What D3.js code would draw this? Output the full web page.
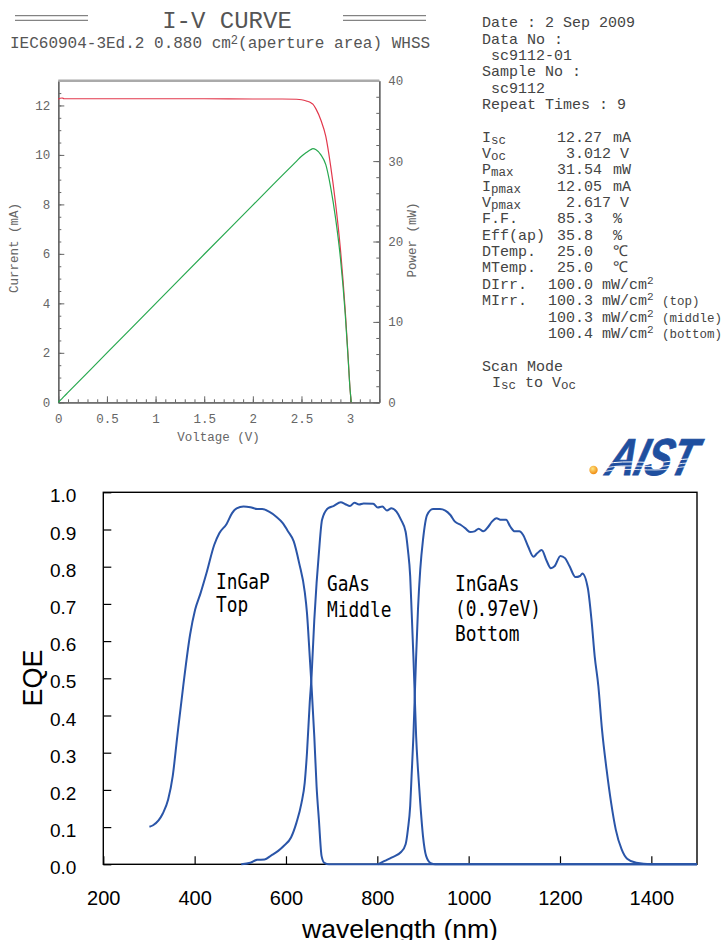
<!DOCTYPE html>
<html>
<head>
<meta charset="utf-8">
<script src="https://cdn.jsdelivr.net/npm/d3@7"></script>
<style>
  body { margin: 0; background: #fff; }
  svg { display: block; }
  text { white-space: pre; }
</style>
</head>
<body>
<svg id="chart" width="726" height="940"></svg>
<script>
// ---- I-V curve (top) ----
const voltage = [0, 0.02, 0.04, 0.06, 0.1, 0.5, 1.0, 1.5, 2.0, 2.3, 2.45, 2.5, 2.55, 2.6, 2.617, 2.65, 2.7, 2.75, 2.8, 2.85, 2.9, 2.95, 2.98, 3.0, 3.012];
const current = [12.25, 12.29, 12.30, 12.27, 12.27, 12.27, 12.27, 12.27, 12.26, 12.26, 12.25, 12.23, 12.18, 12.10, 12.05, 11.85, 11.40, 10.75, 9.55, 8.05, 6.20, 3.70, 1.80, 0.50, 0];
const power = [0, 0.25, 0.49, 0.74, 1.23, 6.14, 12.27, 18.41, 24.52, 28.2, 30.0, 30.6, 31.06, 31.46, 31.54, 31.40, 30.78, 29.56, 26.74, 22.94, 17.98, 10.92, 5.36, 1.5, 0];
const voltageTicks = [0, 0.5, 1, 1.5, 2, 2.5, 3];
const currentTicks = [0, 2, 4, 6, 8, 10, 12];
const powerTicks = [0, 10, 20, 30, 40];

// ---- info panel ----
const infoLines = ["Date : 2 Sep 2009", "Data No :", " sc9112-01", "Sample No :", " sc9112", "Repeat Times : 9"];
const measLabels = [["I", "sc"], ["V", "oc"], ["P", "max"], ["I", "pmax"], ["V", "pmax"], ["F.F.", ""], ["Eff(ap)", ""], ["DTemp.", ""], ["MTemp.", ""], ["DIrr.", ""], ["MIrr.", ""], ["", ""], ["", ""]];
const measValues = ["12.27", "3.012", "31.54", "12.05", "2.617", "85.3", "35.8", "25.0", "25.0", "100.0", "100.3", "100.3", "100.4"];
const measUnits = ["mA", "V", "mW", "mA", "V", "%", "%", "℃", "℃", "mW/cm^2", "mW/cm^2", "mW/cm^2", "mW/cm^2"];
const measNotes = ["", "", "", "", "", "", "", "", "", "", "(top)", "(middle)", "(bottom)"];

// ---- EQE (bottom) ----
const topNm = [301, 309, 330, 342, 352, 362, 375, 390, 401, 413, 426, 443, 454, 470, 482, 492, 507, 522, 537, 548, 563, 578, 593, 605, 617, 629, 641, 646, 652, 656, 662, 667, 672, 678, 684, 694, 1500];
const topEqe = [0.101, 0.105, 0.136, 0.174, 0.237, 0.344, 0.479, 0.617, 0.684, 0.729, 0.783, 0.859, 0.890, 0.915, 0.944, 0.957, 0.962, 0.960, 0.955, 0.955, 0.948, 0.935, 0.917, 0.894, 0.868, 0.809, 0.733, 0.675, 0.559, 0.479, 0.344, 0.210, 0.121, 0.022, 0.004, 0, 0];
const midNm = [502, 522, 537, 553, 568, 583, 595, 611, 623, 634, 641, 646, 652, 656, 662, 667, 672, 679, 692, 704, 720, 730, 740, 750, 760, 770, 791, 801, 811, 821, 831, 842, 852, 862, 867, 872, 875, 879, 882, 885, 889, 894, 900, 907, 917, 927, 1500];
const midEqe = [0, 0.004, 0.012, 0.013, 0.024, 0.036, 0.049, 0.072, 0.112, 0.165, 0.219, 0.300, 0.434, 0.505, 0.657, 0.756, 0.836, 0.926, 0.957, 0.963, 0.973, 0.968, 0.963, 0.972, 0.967, 0.970, 0.969, 0.959, 0.962, 0.951, 0.957, 0.948, 0.926, 0.894, 0.845, 0.774, 0.684, 0.559, 0.452, 0.344, 0.255, 0.165, 0.076, 0.022, 0.003, 0, 0];
const botNm = [801, 816, 831, 852, 862, 867, 872, 875, 879, 882, 885, 889, 894, 900, 909, 922, 937, 949, 960, 970, 983, 993, 1003, 1013, 1022, 1032, 1042, 1051, 1061, 1071, 1082, 1091, 1101, 1111, 1119, 1130, 1142, 1150, 1160, 1170, 1180, 1188, 1201, 1211, 1221, 1234, 1244, 1249, 1261, 1269, 1276, 1284, 1292, 1302, 1312, 1322, 1335, 1347, 1367, 1399, 1500];
const botEqe = [0, 0.009, 0.018, 0.033, 0.054, 0.094, 0.157, 0.237, 0.344, 0.452, 0.559, 0.684, 0.792, 0.872, 0.939, 0.955, 0.955, 0.951, 0.939, 0.921, 0.912, 0.903, 0.893, 0.895, 0.902, 0.895, 0.906, 0.921, 0.930, 0.926, 0.926, 0.908, 0.895, 0.895, 0.886, 0.855, 0.827, 0.836, 0.845, 0.818, 0.796, 0.801, 0.829, 0.823, 0.801, 0.772, 0.775, 0.782, 0.742, 0.657, 0.559, 0.479, 0.362, 0.255, 0.165, 0.094, 0.040, 0.015, 0.004, 0, 0];
const wlTicks = [200, 400, 600, 800, 1000, 1200, 1400];
const eqeTicks = [0, 0.1, 0.2, 0.3, 0.4, 0.5, 0.6, 0.7, 0.8, 0.9, 1.0];
const junctionLabels = [["InGaP", "Top"], ["GaAs", "Middle"], ["InGaAs", "(0.97eV)", "Bottom"]];

const mono = "'Liberation Mono', 'Courier New', monospace";
const sans = "'Liberation Sans', Arial, sans-serif";
const svg = d3.select('#chart');

// ================= header =================
const head = svg.append('g').attr('font-family', mono).attr('fill', '#555');
[[15, 88], [343, 426]].forEach(([a, b]) => {
    [15.7, 20.3].forEach(y => {
        head.append('line').attr('x1', a).attr('x2', b).attr('y1', y).attr('y2', y)
            .attr('stroke', '#666').attr('stroke-width', 1);
    });
});
head.append('text').attr('x', 227).attr('y', 28.3).attr('text-anchor', 'middle')
    .attr('font-size', 24).text('I-V CURVE');
let sub = head.append('text').attr('x', 10).attr('y', 48.3).attr('font-size', 16);
sub.append('tspan').text('IEC60904-3Ed.2 0.880 cm');
sub.append('tspan').attr('font-size', 12).attr('dy', -4.5).text('2');
sub.append('tspan').attr('dy', 4.5).text('(aperture area) WHSS');

// ================= I-V plot =================
const xV = d3.scaleLinear().domain([0, 3.3]).range([58.3, 379.3]);
const yI = d3.scaleLinear().domain([0, 13]).range([402.3, 80.7]);
const yP = d3.scaleLinear().domain([0, 40]).range([402.3, 80.7]);

function styleIv(g) {
    g.select('.domain').attr('stroke', '#666').attr('stroke-width', 1.3);
    g.selectAll('.tick line').attr('stroke', '#666').attr('stroke-width', 1);
    g.selectAll('.tick text').attr('fill', '#666').attr('font-family', mono).attr('font-size', 12.5);
}

const ivG = svg.append('g');
// minor ticks
ivG.append('g').attr('transform', 'translate(58.3,0)')
    .call(d3.axisLeft(yI).tickValues(d3.range(0, 13.01, 0.5)).tickSize(-3).tickSizeOuter(0).tickFormat(''))
    .call(styleIv);
ivG.append('g').attr('transform', 'translate(0,402.3)')
    .call(d3.axisBottom(xV).tickValues(d3.range(0, 3.31, 0.1)).tickSize(-3).tickSizeOuter(0).tickFormat(''))
    .call(styleIv);
ivG.append('g').attr('transform', 'translate(379.3,0)')
    .call(d3.axisRight(yP).tickValues(d3.range(0, 40.1, 2)).tickSize(-3).tickSizeOuter(0).tickFormat(''))
    .call(styleIv);
// major ticks + labels
ivG.append('g').attr('transform', 'translate(58.3,0)')
    .call(d3.axisLeft(yI).tickValues(currentTicks).tickSize(-6).tickSizeOuter(0).tickPadding(8).tickFormat(d => String(d)))
    .call(styleIv);
ivG.append('g').attr('transform', 'translate(0,402.3)')
    .call(d3.axisBottom(xV).tickValues(voltageTicks).tickSize(-6).tickSizeOuter(0).tickPadding(12).tickFormat(d => String(d)))
    .call(styleIv);
ivG.append('g').attr('transform', 'translate(379.3,0)')
    .call(d3.axisRight(yP).tickValues(powerTicks).tickSize(-6).tickSizeOuter(0).tickPadding(9).tickFormat(d => String(d)))
    .call(styleIv);
ivG.append('line').attr('x1', 58.3).attr('x2', 379.3).attr('y1', 80.7).attr('y2', 80.7)
    .attr('stroke', '#aaa').attr('stroke-width', 2.5);

const ivLbl = ivG.append('g').attr('font-family', mono).attr('font-size', 12.5).attr('fill', '#666').attr('text-anchor', 'middle');
ivLbl.append('text').attr('x', 218.5).attr('y', 441).text('Voltage (V)');
ivLbl.append('text').attr('transform', 'translate(18,248) rotate(-90)').text('Current (mA)');
ivLbl.append('text').attr('transform', 'translate(416,240) rotate(-90)').text('Power (mW)');

const ivIdx = d3.range(voltage.length);
ivG.append('path').datum(ivIdx)
    .attr('fill', 'none').attr('stroke', '#e2384c').attr('stroke-width', 1.2)
    .attr('d', d3.line().x(i => xV(voltage[i])).y(i => yI(current[i])).curve(d3.curveMonotoneX));
ivG.append('path').datum(ivIdx)
    .attr('fill', 'none').attr('stroke', '#27a84f').attr('stroke-width', 1.2)
    .attr('d', d3.line().x(i => xV(voltage[i])).y(i => yP(power[i])).curve(d3.curveMonotoneX));

// ================= info panel =================
const panelX = 482, rowBase = 27.2, rowStep = 16.35, charW = 9;
const panel = svg.append('g').attr('font-family', mono).attr('font-size', 15).attr('fill', '#444');
infoLines.forEach((t, i) => {
    panel.append('text').attr('x', panelX).attr('y', rowBase + i * rowStep).text(t);
});
measLabels.forEach((lab, i) => {
    const y = rowBase + (7 + i) * rowStep;
    if (lab[0]) {
        const t = panel.append('text').attr('x', panelX).attr('y', y);
        t.append('tspan').text(lab[0]);
        if (lab[1]) t.append('tspan').attr('dy', 2).attr('font-size', 12.5).text(lab[1]);
    }
    const v = measValues[i];
    const vx = 575 - charW * v.indexOf('.');
    panel.append('text').attr('x', vx).attr('y', y).text(v);
    const end = vx + charW * v.length;
    const parts = measUnits[i].split('^');
    const ux = parts.length > 1 ? end + charW : Math.max(end + charW, 613);
    const u = panel.append('text').attr('x', ux).attr('y', y);
    u.append('tspan').text(parts[0]);
    if (parts.length > 1) u.append('tspan').attr('font-size', 11).attr('dy', -5).text(parts[1]);
    if (measNotes[i]) {
        panel.append('text').attr('x', 662).attr('y', y).attr('font-size', 12.5).text(measNotes[i]);
    }
});
panel.append('text').attr('x', panelX).attr('y', rowBase + 21 * rowStep).text('Scan Mode');
const scan = panel.append('text').attr('x', 492).attr('y', rowBase + 22 * rowStep);
scan.append('tspan').text('I');
scan.append('tspan').attr('font-size', 12.5).attr('dy', 2).text('sc');
scan.append('tspan').attr('dy', -2).text(' to V');
scan.append('tspan').attr('font-size', 12.5).attr('dy', 2).text('oc');

// ================= AIST logo =================
const defs = svg.append('defs');
const rg = defs.append('radialGradient').attr('id', 'ball').attr('cx', '40%').attr('cy', '35%').attr('r', '65%');
rg.append('stop').attr('offset', '0%').attr('stop-color', '#ffe680');
rg.append('stop').attr('offset', '100%').attr('stop-color', '#f08a10');
svg.append('circle').attr('cx', 593.5).attr('cy', 470).attr('r', 4.2).attr('fill', 'url(#ball)');
svg.append('text').attr('transform', 'translate(604,475) skewX(-16) scale(0.76,1)')
    .attr('font-family', sans).attr('font-weight', 'bold').attr('font-style', 'italic')
    .attr('font-size', 52).attr('fill', '#1f4f9f').attr('stroke', '#1f4f9f').attr('stroke-width', 0.8)
    .attr('letter-spacing', -1).text('AIST');
// white streaks across the logo
[[462, 0.6], [466, 0.5], [469.5, 0.45]].forEach(([y, w]) => {
    svg.append('path')
        .attr('d', `M604,${y + 2} C630,${y - 3} 650,${y + 3} 672,${y - 1} S695,${y - 2} 702,${y}`)
        .attr('fill', 'none').attr('stroke', '#fff').attr('stroke-width', w + 0.4);
});

// ================= EQE plot =================
const xW = d3.scaleLinear().domain([200, 1500]).range([103.3, 697]);
const yQ = d3.scaleLinear().domain([0, 1]).range([864.3, 492.3]);
const eq = svg.append('g');

eq.append('g').attr('transform', 'translate(103.3,0)')
    .call(d3.axisLeft(yQ).tickValues(eqeTicks).tickSize(-8).tickSizeOuter(0).tickPadding(27).tickFormat(d3.format('.1f')))
    .call(g => {
        g.select('.domain').remove();
        g.selectAll('.tick line').attr('stroke', '#000').attr('stroke-width', 1.2);
        g.selectAll('.tick text').attr('fill', '#000').attr('font-family', sans).attr('font-size', 19).attr('dy', '0.5em');
    });
eq.append('g').attr('transform', 'translate(0,864.3)')
    .call(d3.axisBottom(xW).tickValues(wlTicks).tickSize(-8).tickSizeOuter(0).tickPadding(26.5).tickFormat(d => String(d)))
    .call(g => {
        g.select('.domain').remove();
        g.selectAll('.tick line').attr('stroke', '#000').attr('stroke-width', 1.2);
        g.selectAll('.tick text').attr('fill', '#000').attr('font-family', sans).attr('font-size', 20);
    });
eq.append('rect').attr('x', 103.3).attr('y', 492.3).attr('width', 697 - 103.3).attr('height', 864.3 - 492.3)
    .attr('fill', 'none').attr('stroke', '#000').attr('stroke-width', 1.4);

const eqLine = d3.line().x(d => xW(d[0])).y(d => yQ(d[1])).curve(d3.curveMonotoneX);
[[topNm, topEqe], [midNm, midEqe], [botNm, botEqe]].forEach(([nm, q]) => {
    eq.append('path').datum(nm.map((w, i) => [w, q[i]]))
        .attr('fill', 'none').attr('stroke', '#2a55a8').attr('stroke-width', 2)
        .attr('stroke-linejoin', 'round').attr('d', eqLine);
});

eq.append('text').attr('transform', 'translate(33,678) rotate(-90)').attr('text-anchor', 'middle')
    .attr('dy', '0.35em').attr('font-family', sans).attr('font-size', 27).attr('fill', '#000').text('EQE');
eq.append('text').attr('x', 400).attr('y', 938).attr('text-anchor', 'middle')
    .attr('font-family', sans).attr('font-size', 26.5).attr('fill', '#000').text('wavelength (nm)');

// junction labels, condensed mono
const labelSpots = [[216, 588.5, 23], [327, 590.5, 26], [455, 590.5, 25]];
junctionLabels.forEach((lines, j) => {
    const [lx, ly, step] = labelSpots[j];
    lines.forEach((t, k) => {
        eq.append('text').attr('transform', `translate(${lx},${ly + k * step}) scale(0.85,1)`)
            .attr('font-family', "'DejaVu Sans Mono', monospace").attr('font-size', 21).attr('fill', '#000').text(t);
    });
});
</script>
</body>
</html>
